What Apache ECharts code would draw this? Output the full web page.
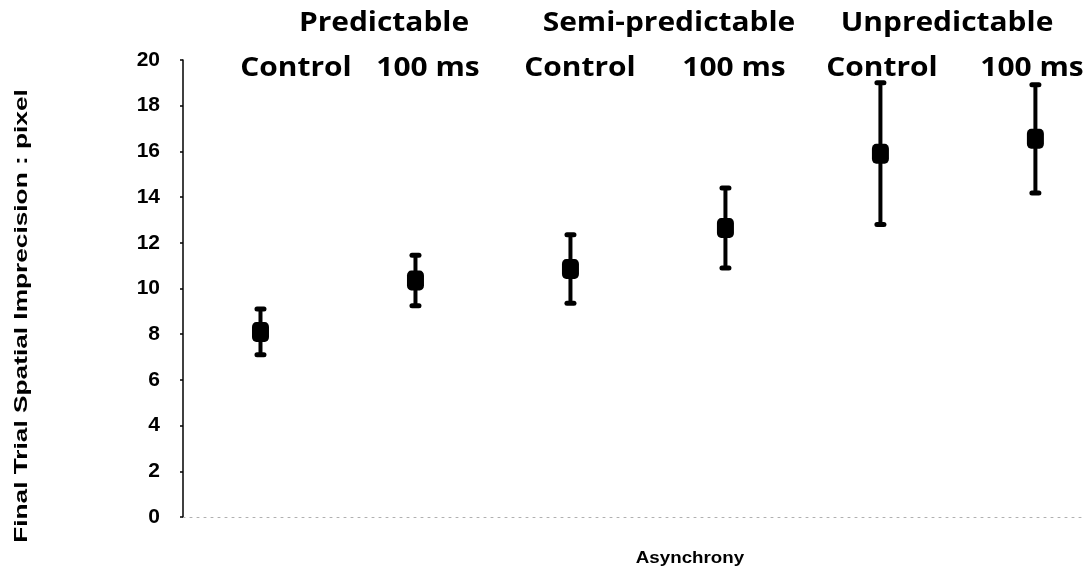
<!DOCTYPE html>
<html>
<head>
<meta charset="utf-8">
<script src="https://cdn.jsdelivr.net/npm/echarts@6/dist/echarts.min.js"></script>
<style>
  html, body { margin: 0; padding: 0; background: #fff; }
  #chart { width: 1089px; height: 572px; }
</style>
</head>
<body>
<div id="chart"></div>
<script>
// Condition labels (one per point) and the group headings above them
const categories = ['Control', '100 ms', 'Control', '100 ms', 'Control', '100 ms'];
const groups = ['Predictable', 'Semi-predictable', 'Unpredictable'];
// Mean final-trial spatial imprecision (pixel) and error-bar half widths
const means = [8.1, 10.35, 10.85, 12.65, 15.9, 16.55];
const errors = [1.0, 1.1, 1.5, 1.75, 3.1, 2.37];
const yTicks = [0, 2, 4, 6, 8, 10, 12, 14, 16, 18, 20];

const chart = echarts.init(document.getElementById('chart'));

const points = means.map((m, i) => [i + 1, m]);
const bars = means.map((m, i) => [i + 1, m - errors[i], m + errors[i]]);

const headFont = '"Open Sans", Lato, sans-serif';
const axisFont = 'Arial, "Liberation Sans", sans-serif';

// Header text positions (pixels)
const subLabelX = [296, 428, 580, 734, 882, 1032];
const groupX = [384, 669, 947];

const graphics = [];
groups.forEach((g, i) => {
  graphics.push({
    type: 'text', x: groupX[i], y: 24, scaleX: 1.15,
    style: { text: g, font: 'bold 26px ' + headFont, fill: '#000', align: 'center', verticalAlign: 'middle' }
  });
});
categories.forEach((c, i) => {
  graphics.push({
    type: 'text', x: subLabelX[i], y: 69, scaleX: 1.15,
    style: { text: c, font: 'bold 26px ' + headFont, fill: '#000', align: 'center', verticalAlign: 'middle' }
  });
});
// x-axis title
graphics.push({
  type: 'text', x: 690, y: 558, scaleX: 1.25, scaleY: 1.1,
  style: { text: 'Asynchrony', font: 'bold 15px ' + axisFont, fill: '#000', align: 'center', verticalAlign: 'middle' }
});
// y-axis title, stretched along its length
graphics.push({
  type: 'text', x: 22, y: 316, rotation: Math.PI / 2, scaleX: 1.75, scaleY: 1.25,
  style: { text: 'Final Trial Spatial Imprecision : pixel', font: 'bold 15px ' + axisFont, fill: '#000', align: 'center', verticalAlign: 'middle' }
});

chart.setOption({
  animation: false,
  backgroundColor: '#fff',
  grid: { left: 183, right: 4, top: 60, bottom: 55 },
  graphic: graphics,
  xAxis: {
    type: 'value', min: 0.5, max: 6.32,
    axisLine: { show: true, lineStyle: { color: '#b0b0b0', type: [2, 5], width: 1 } },
    axisTick: { show: false }, axisLabel: { show: false }, splitLine: { show: false }
  },
  yAxis: {
    type: 'value', min: yTicks[0], max: yTicks[yTicks.length - 1], interval: 2,
    axisLine: { show: true, lineStyle: { color: '#000', width: 1.5 } },
    axisTick: { show: true, length: 3, lineStyle: { color: '#000', width: 1.5 } },
    axisLabel: { color: '#000', fontFamily: axisFont, fontWeight: 'bold', fontSize: 21, margin: 23 },
    splitLine: { show: false }
  },
  series: [
    {
      type: 'custom',
      data: bars,
      z: 2,
      renderItem: function (params, api) {
        const x = api.value(0);
        const lo = api.coord([x, api.value(1)]);
        const hi = api.coord([x, api.value(2)]);
        const capW = 12, capH = 5;
        return {
          type: 'group',
          children: [
            { type: 'line', shape: { x1: lo[0], y1: lo[1], x2: hi[0], y2: hi[1] }, style: { stroke: '#000', lineWidth: 4 } },
            { type: 'rect', shape: { x: hi[0] - capW / 2, y: hi[1] - capH / 2, width: capW, height: capH, r: 2.5 }, style: { fill: '#000' } },
            { type: 'rect', shape: { x: lo[0] - capW / 2, y: lo[1] - capH / 2, width: capW, height: capH, r: 2.5 }, style: { fill: '#000' } }
          ]
        };
      }
    },
    {
      type: 'scatter',
      data: points,
      z: 3,
      symbol: 'roundRect',
      symbolSize: [17, 20],
      itemStyle: { color: '#000', opacity: 1 }
    }
  ]
});
</script>
</body>
</html>
